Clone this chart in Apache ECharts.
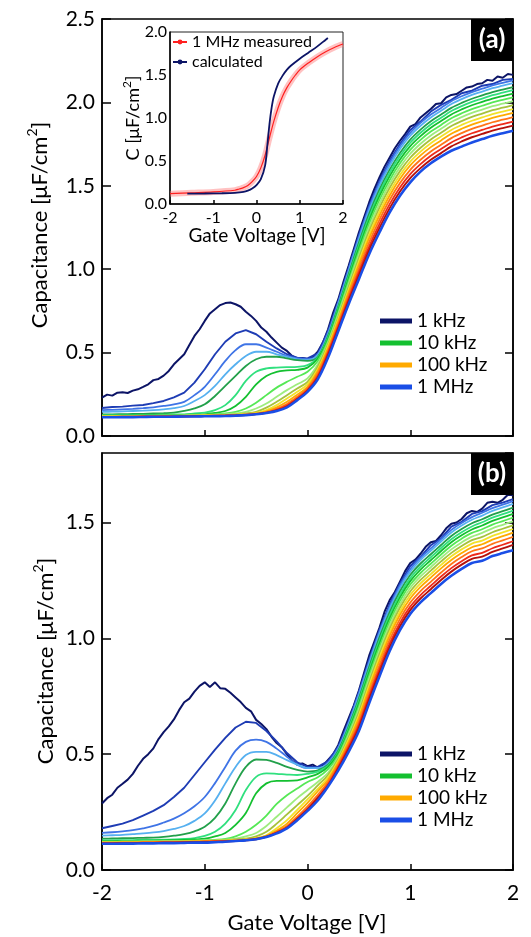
<!DOCTYPE html>
<html><head><meta charset="utf-8">
<script src="https://cdn.jsdelivr.net/npm/echarts@6/dist/echarts.min.js"></script>
<style>html,body{margin:0;padding:0;background:#fff}#c{width:531px;height:937px}</style>
</head><body><div id="c"></div>
<script>
// Gate voltage grid [V]
const volts = [-2,-1.9,-1.8,-1.7,-1.6,-1.5,-1.4,-1.3,-1.2,-1.1,-1,-0.9,-0.8,-0.7,-0.6,-0.5,-0.4,-0.3,-0.2,-0.1,0,0.1,0.2,0.3,0.4,0.5,0.6,0.7,0.8,0.9,1,1.1,1.2,1.3,1.4,1.5,1.6,1.7,1.8,1.9,2];

// Panel (a) capacitance [uF/cm2], from 1 kHz (c1) to 1 MHz (c16)
const aC1 = [0.23,0.248,0.262,0.272,0.294,0.342,0.362,0.44,0.49,0.61,0.69,0.77,0.797,0.79,0.74,0.69,0.62,0.56,0.51,0.465,0.462, 0.505,0.64, 0.82,1.02,1.22,1.40,1.55,1.67,1.77,1.85,1.91,1.96,2.00,2.04,2.07,2.095,2.115,2.135,2.15,2.165];
const aC2 = [0.168,0.174,0.176,0.182,0.186,0.197,0.21,0.232,0.26,0.32,0.40,0.49,0.565,0.615,0.635,0.61,0.565,0.525,0.49,0.47,0.465, 0.495,0.63, 0.809,1.006,1.203,1.381,1.53,1.65,1.75,1.835,1.885,1.945,1.985,2.015,2.055,2.07,2.10,2.11,2.135,2.14];
const aC3 = [0.155,0.157,0.16,0.163,0.167,0.172,0.18,0.19,0.205,0.245,0.295,0.37,0.45,0.515,0.55,0.55,0.53,0.505,0.48,0.465,0.46, 0.49,0.62, 0.801,0.997,1.192,1.369,1.517,1.637,1.737,1.817,1.877,1.927,1.967,2.007,2.037,2.062,2.082,2.102,2.117,2.132];
const aC4 = [0.145,0.146,0.148,0.15,0.152,0.155,0.16,0.167,0.18,0.21,0.245,0.30,0.37,0.43,0.48,0.505,0.505,0.49,0.475,0.46,0.455, 0.485,0.61, 0.791,0.985,1.178,1.353,1.50,1.62,1.72,1.80,1.86,1.91,1.95,1.99,2.02,2.045,2.065,2.085,2.10,2.115];
const aC5 = [0.13,0.13,0.131,0.132,0.133,0.135,0.137,0.14,0.15,0.165,0.19,0.24,0.30,0.36,0.42,0.46,0.475,0.475,0.465,0.455,0.45, 0.475,0.60, 0.778,0.969,1.158,1.332,1.477,1.597,1.697,1.777,1.837,1.887,1.927,1.967,1.997,2.022,2.042,2.062,2.077,2.092];
const aC6 = [0.125,0.125,0.126,0.126,0.127,0.127,0.128,0.129,0.13,0.135,0.14,0.155,0.185,0.245,0.33,0.385,0.405,0.41,0.413,0.415,0.425, 0.47,0.59, 0.767,0.956,1.142,1.313,1.458,1.578,1.678,1.758,1.818,1.868,1.908,1.948,1.978,2.003,2.023,2.043,2.058,2.073];
const aC7 = [0.122,0.122,0.123,0.123,0.124,0.124,0.125,0.126,0.127,0.128,0.13,0.138,0.15,0.18,0.235,0.31,0.36,0.385,0.393,0.397,0.41, 0.465,0.58, 0.755,0.942,1.125,1.295,1.438,1.558,1.658,1.738,1.798,1.848,1.888,1.928,1.958,1.983,2.003,2.023,2.038,2.053];
const aC8 = [0.12,0.12,0.121,0.121,0.122,0.122,0.123,0.123,0.124,0.125,0.126,0.13,0.135,0.145,0.165,0.20,0.245,0.29,0.325,0.355,0.385, 0.45,0.57, 0.742,0.926,1.105,1.273,1.415,1.535,1.635,1.715,1.775,1.825,1.865,1.905,1.935,1.96,1.98,2.00,2.015,2.03];
const aC9 = [0.119,0.119,0.12,0.12,0.121,0.121,0.122,0.122,0.123,0.124,0.125,0.127,0.13,0.135,0.145,0.165,0.195,0.235,0.275,0.31,0.345, 0.43,0.56, 0.729,0.91,1.086,1.251,1.392,1.512,1.612,1.692,1.752,1.802,1.842,1.882,1.912,1.937,1.957,1.977,1.992,2.007];
const aC10 = [0.118,0.118,0.119,0.119,0.12,0.12,0.121,0.121,0.122,0.123,0.124,0.125,0.127,0.13,0.135,0.145,0.17,0.205,0.245,0.285,0.325, 0.415,0.55, 0.715,0.893,1.066,1.229,1.368,1.488,1.588,1.668,1.728,1.778,1.818,1.858,1.888,1.913,1.933,1.953,1.968,1.983];
const aC11 = [0.117,0.117,0.118,0.118,0.119,0.119,0.12,0.12,0.121,0.122,0.123,0.124,0.125,0.128,0.132,0.138,0.155,0.185,0.225,0.265,0.31, 0.40,0.54, 0.702,0.877,1.046,1.208,1.345,1.465,1.565,1.645,1.705,1.755,1.795,1.835,1.865,1.89,1.91,1.93,1.945,1.96];
const aC12 = [0.116,0.116,0.117,0.117,0.118,0.118,0.119,0.119,0.12,0.121,0.122,0.123,0.124,0.126,0.13,0.135,0.148,0.172,0.205,0.248,0.295, 0.39,0.525, 0.689,0.861,1.027,1.186,1.322,1.442,1.542,1.622,1.682,1.732,1.772,1.812,1.842,1.867,1.887,1.907,1.922,1.937];
const aC13 = [0.115,0.115,0.116,0.116,0.117,0.117,0.118,0.118,0.119,0.12,0.121,0.122,0.123,0.125,0.128,0.133,0.143,0.163,0.192,0.235,0.285, 0.375,0.51, 0.674,0.843,1.004,1.161,1.296,1.416,1.516,1.596,1.656,1.706,1.746,1.786,1.816,1.841,1.861,1.881,1.896,1.911];
const aC14 = [0.114,0.114,0.115,0.115,0.116,0.116,0.117,0.117,0.118,0.119,0.12,0.121,0.122,0.124,0.127,0.132,0.14,0.157,0.183,0.225,0.277, 0.36,0.50, 0.658,0.824,0.982,1.136,1.27,1.39,1.49,1.57,1.63,1.68,1.72,1.76,1.79,1.815,1.835,1.855,1.87,1.885];
const aC15 = [0.113,0.113,0.114,0.114,0.115,0.115,0.116,0.116,0.117,0.118,0.119,0.12,0.121,0.123,0.126,0.131,0.139,0.153,0.177,0.22,0.27, 0.35,0.485, 0.645,0.808,0.962,1.115,1.246,1.366,1.466,1.546,1.606,1.656,1.696,1.736,1.766,1.791,1.811,1.831,1.846,1.861];
const aC16 = [0.112,0.112,0.113,0.113,0.114,0.115,0.115,0.116,0.117,0.117,0.118,0.119,0.12,0.122,0.125,0.13,0.138,0.15,0.172,0.215,0.265, 0.34,0.47, 0.63,0.79,0.94,1.09,1.22,1.34,1.44,1.52,1.585,1.635,1.675,1.71,1.735,1.76,1.78,1.80,1.815,1.83];

// Panel (a) 1 kHz curve sampled more finely to show its noise
const voltsFine = [-2,-1.95,-1.9,-1.85,-1.8,-1.75,-1.7,-1.65,-1.6,-1.55,-1.5,-1.45,-1.4,-1.35,-1.3,-1.25,-1.2,-1.15,-1.1,-1.05,-1,-0.95,-0.9,-0.85,-0.8,-0.75,-0.7,-0.65,-0.6,-0.55,-0.5,-0.45,-0.4,-0.35,-0.3,-0.25,-0.2,-0.15,-0.1,-0.05,0,0.05,0.1,0.15,0.2,0.25,0.3,0.35,0.4,0.45,0.5,0.55,0.6,0.65,0.7,0.75,0.8,0.85,0.9,0.95,1,1.05,1.1,1.15,1.2,1.25,1.3,1.35,1.4,1.45,1.5,1.55,1.6,1.65,1.7,1.75,1.8,1.85,1.9,1.95,2];
const aC1fine = [0.23,0.248,0.242,0.26,0.262,0.258,0.272,0.28,0.294,0.31,0.335,0.342,0.362,0.39,0.43,0.46,0.49,0.545,0.6,0.64,0.69,0.735,0.76,0.785,0.797,0.8,0.79,0.775,0.745,0.72,0.69,0.65,0.625,0.59,0.56,0.53,0.51,0.48,0.462,0.468,0.46,0.472,0.505,0.56,0.64,0.74,0.82,0.925,1.02,1.12,1.22,1.31,1.40,1.48,1.55,1.615,1.67,1.725,1.77,1.81,1.855,1.87,1.91,1.935,1.96,1.99,1.995,2.03,2.045,2.05,2.07,2.09,2.095,2.11,2.115,2.135,2.13,2.155,2.148,2.17,2.165];
const bC1fine = [0.287,0.31,0.325,0.355,0.372,0.39,0.415,0.45,0.48,0.5,0.525,0.565,0.595,0.62,0.65,0.69,0.724,0.74,0.77,0.795,0.81,0.79,0.81,0.785,0.782,0.765,0.745,0.725,0.70,0.685,0.648,0.63,0.608,0.575,0.548,0.53,0.50,0.472,0.455,0.46,0.448,0.455,0.442,0.45,0.475,0.5,0.54,0.6,0.655,0.71,0.775,0.85,0.925,0.985,1.045,1.115,1.165,1.2,1.245,1.29,1.325,1.34,1.365,1.395,1.415,1.42,1.445,1.475,1.495,1.5,1.515,1.54,1.55,1.545,1.56,1.585,1.59,1.585,1.598,1.62,1.618];

// Panel (b)
const bC2 = [0.18,0.19,0.20,0.215,0.235,0.255,0.28,0.315,0.355,0.41,0.465,0.52,0.57,0.615,0.64,0.635,0.60,0.555,0.505,0.465,0.445, 0.445,0.47, 0.533,0.642,0.769,0.908,1.037,1.147,1.237,1.312,1.352,1.402,1.432,1.482,1.503,1.537,1.549,1.575,1.586,1.601];
const bC3 = [0.16,0.163,0.167,0.172,0.18,0.19,0.205,0.222,0.245,0.275,0.315,0.375,0.445,0.515,0.553,0.563,0.553,0.524,0.489,0.455,0.44, 0.44,0.465, 0.529,0.636,0.762,0.90,1.028,1.138,1.228,1.298,1.348,1.388,1.428,1.468,1.498,1.523,1.542,1.562,1.577,1.592];
const bC4 = [0.148,0.15,0.152,0.155,0.158,0.162,0.168,0.177,0.19,0.212,0.244,0.30,0.374,0.445,0.496,0.51,0.51,0.496,0.474,0.455,0.44, 0.44,0.46, 0.523,0.629,0.753,0.89,1.018,1.128,1.218,1.288,1.338,1.378,1.418,1.457,1.487,1.512,1.53,1.55,1.565,1.58];
const bC5 = [0.135,0.136,0.137,0.138,0.139,0.14,0.143,0.148,0.155,0.167,0.187,0.225,0.287,0.374,0.445,0.477,0.475,0.462,0.445,0.432,0.425, 0.43,0.455, 0.516,0.619,0.74,0.876,1.003,1.113,1.203,1.273,1.323,1.363,1.403,1.442,1.472,1.497,1.514,1.534,1.549,1.564];
const bC6 = [0.128,0.128,0.129,0.129,0.13,0.13,0.131,0.132,0.134,0.138,0.147,0.165,0.20,0.259,0.345,0.402,0.417,0.415,0.412,0.41,0.415, 0.425,0.45, 0.509,0.611,0.73,0.864,0.99,1.10,1.19,1.26,1.31,1.35,1.39,1.428,1.458,1.483,1.501,1.521,1.536,1.551];
const bC7 = [0.125,0.125,0.126,0.126,0.127,0.127,0.128,0.129,0.13,0.132,0.135,0.145,0.16,0.195,0.246,0.331,0.374,0.385,0.385,0.387,0.40, 0.415,0.445, 0.503,0.602,0.719,0.852,0.977,1.087,1.177,1.247,1.297,1.337,1.377,1.415,1.445,1.47,1.487,1.507,1.522,1.537];
const bC8 = [0.122,0.122,0.123,0.123,0.124,0.124,0.125,0.125,0.126,0.127,0.128,0.13,0.134,0.145,0.165,0.195,0.235,0.285,0.323,0.352,0.38, 0.40,0.435, 0.495,0.593,0.706,0.838,0.962,1.072,1.162,1.232,1.282,1.322,1.362,1.40,1.43,1.455,1.471,1.491,1.506,1.521];
const bC9 = [0.121,0.121,0.122,0.122,0.123,0.123,0.124,0.124,0.125,0.126,0.127,0.128,0.131,0.135,0.145,0.16,0.19,0.23,0.27,0.31,0.345, 0.38,0.42, 0.487,0.583,0.694,0.824,0.947,1.057,1.147,1.217,1.267,1.307,1.347,1.384,1.414,1.439,1.455,1.475,1.49,1.505];
const bC10 = [0.12,0.12,0.121,0.121,0.122,0.122,0.123,0.123,0.124,0.125,0.126,0.127,0.129,0.132,0.135,0.145,0.165,0.20,0.24,0.28,0.32, 0.365,0.41, 0.479,0.573,0.681,0.81,0.932,1.042,1.132,1.202,1.252,1.292,1.332,1.369,1.399,1.424,1.438,1.458,1.473,1.488];
const bC11 = [0.119,0.119,0.12,0.12,0.121,0.121,0.122,0.122,0.123,0.124,0.125,0.126,0.127,0.129,0.132,0.138,0.15,0.18,0.215,0.26,0.305, 0.35,0.40, 0.472,0.563,0.668,0.796,0.917,1.027,1.117,1.187,1.237,1.277,1.317,1.354,1.384,1.409,1.422,1.442,1.457,1.472];
const bC12 = [0.118,0.118,0.119,0.119,0.12,0.12,0.121,0.121,0.122,0.123,0.124,0.125,0.126,0.128,0.131,0.136,0.147,0.17,0.20,0.245,0.29, 0.34,0.39, 0.464,0.553,0.656,0.782,0.902,1.012,1.102,1.172,1.222,1.262,1.302,1.338,1.368,1.393,1.406,1.426,1.441,1.456];
const bC13 = [0.117,0.117,0.118,0.118,0.119,0.119,0.12,0.12,0.121,0.122,0.123,0.124,0.125,0.127,0.13,0.135,0.145,0.165,0.19,0.23,0.275, 0.325,0.38, 0.455,0.542,0.641,0.766,0.884,0.994,1.084,1.154,1.204,1.244,1.284,1.321,1.351,1.376,1.388,1.408,1.423,1.438];
const bC14 = [0.116,0.116,0.117,0.117,0.118,0.118,0.119,0.119,0.12,0.121,0.122,0.123,0.124,0.126,0.129,0.134,0.144,0.162,0.185,0.223,0.265, 0.315,0.37, 0.446,0.531,0.627,0.75,0.867,0.977,1.067,1.137,1.187,1.227,1.267,1.303,1.333,1.358,1.369,1.389,1.404,1.419];
const bC15 = [0.115,0.115,0.116,0.116,0.117,0.117,0.118,0.118,0.119,0.12,0.121,0.122,0.123,0.125,0.128,0.133,0.143,0.16,0.182,0.22,0.26, 0.31,0.365, 0.439,0.521,0.614,0.736,0.852,0.962,1.052,1.122,1.172,1.212,1.252,1.288,1.318,1.343,1.353,1.373,1.388,1.403];
const bC16 = [0.113,0.113,0.114,0.114,0.115,0.115,0.116,0.116,0.117,0.118,0.118,0.12,0.122,0.125,0.128,0.133,0.142,0.158,0.18,0.215,0.255, 0.30,0.36, 0.43,0.51,0.60,0.72,0.835,0.945,1.035,1.105,1.155,1.195,1.235,1.27,1.30,1.325,1.335,1.355,1.368,1.38];

// Inset
const insetMeasV = [-2,-1.5,-1,-0.5,-0.4,-0.3,-0.2,-0.1,0,0.1,0.2,0.3,0.4,0.5,0.6,0.7,0.8,0.9,1.0,1.2,1.4,1.6,1.8,2.0];
const insetMeasC = [0.12,0.13,0.14,0.16,0.175,0.19,0.215,0.26,0.32,0.42,0.57,0.77,0.96,1.12,1.25,1.35,1.43,1.50,1.56,1.64,1.71,1.77,1.82,1.86];
const insetCalcV = [-1.6,-1.2,-0.8,-0.5,-0.3,-0.2,-0.1,0,0.1,0.2,0.25,0.3,0.35,0.4,0.5,0.6,0.7,0.8,1.0,1.2,1.4,1.6,1.65];
const insetCalcC = [0.12,0.122,0.125,0.13,0.14,0.155,0.18,0.22,0.29,0.45,0.68,0.93,1.12,1.25,1.40,1.49,1.56,1.61,1.69,1.76,1.83,1.91,1.93];

const curveNames = ['1 kHz','a2','a3','a4','a5','a6','10 kHz','a8','a9','a10','a11','100 kHz','a13','a14','a15','1 MHz'];
const legendNames = ['1 kHz','10 kHz','100 kHz','1 MHz'];
const insetNames = ['1 MHz measured','calculated'];
const xTicks = [-2,-1,0,1,2];

const curveColors = ['#0c1466','#1e3cb4','#3f74e6','#56b0f0','#22a04a','#30e07e','#14c030','#55e855','#9eec7e','#a6c23c','#f2e22a','#ffaa00','#ff7418','#ee2a1a','#b4100c','#1a4ee6'];
const curveWidths = [2,1.9,1.8,1.8,1.8,1.8,1.8,1.8,1.8,1.8,1.8,1.8,1.8,1.8,1.9,2.6];

const panelA = [aC1fine,aC2,aC3,aC4,aC5,aC6,aC7,aC8,aC9,aC10,aC11,aC12,aC13,aC14,aC15,aC16];
const panelB = [bC1fine,bC2,bC3,bC4,bC5,bC6,bC7,bC8,bC9,bC10,bC11,bC12,bC13,bC14,bC15,bC16];

const FONT = 'Lato, "Noto Sans", sans-serif';
const chart = echarts.init(document.getElementById('c'), null, {renderer:'canvas'});

function curve(arr, k, xi, yi) {
  const xs = k === 0 ? voltsFine : volts;
  return {
    type:'line', name: curveNames[k], xAxisIndex: xi, yAxisIndex: yi,
    data: xs.map((v,i)=>[v, arr[i]]),
    symbol:'none', showSymbol:false, smooth: k < 2 ? false : 0.35,
    lineStyle:{color: curveColors[k], width: curveWidths[k]},
    itemStyle:{color: curveColors[k]}, silent:true, animation:false
  };
}
const series = [];
panelA.forEach((a,k)=>series.push(curve(a,k,0,0)));
panelB.forEach((a,k)=>series.push(curve(a,k,1,2)));
series.push({type:'line', name:'halo', xAxisIndex:2, yAxisIndex:4, data: insetMeasV.map((v,i)=>[v, insetMeasC[i]]),
  symbol:'none', smooth:0.3, lineStyle:{color:'rgba(255,120,120,0.45)', width:6}, silent:true});
series.push({type:'line', name:insetNames[0], xAxisIndex:2, yAxisIndex:4, data: insetMeasV.map((v,i)=>[v, insetMeasC[i]]),
  symbol:'circle', symbolSize:5, showSymbol:false, smooth:0.3, lineStyle:{color:'#ff2020', width:1.2}, itemStyle:{color:'#ff2020'}, silent:true});
series.push({type:'line', name:insetNames[1], xAxisIndex:2, yAxisIndex:4, data: insetCalcV.map((v,i)=>[v, insetCalcC[i]]),
  symbol:'none', smooth:0.3, lineStyle:{color:'#0c1466', width:1.8}, itemStyle:{color:'#0c1466'}, silent:true});

function xAx(gi, showLab, fs, margin, tickLen) {
  return {gridIndex:gi, type:'value', min:-2, max:2, interval:1,
    axisLine:{show:true, onZero:false, lineStyle:{color:'#000', width:1.5}}, splitLine:{show:false},
    axisTick:{show:true, inside:true, length:tickLen, lineStyle:{color:'#000', width:1.5}},
    axisLabel:{show:showLab, fontSize:fs, margin:margin, color:'#000', fontFamily:FONT,
      formatter: v => xTicks.includes(v) ? String(v) : ''}};
}
function yAx(gi, max, pos, showLab, fs, margin, tickLen, tickShow) {
  return {gridIndex:gi, type:'value', min:0, max:max, interval:0.5, position:pos,
    axisLine:{show:true, onZero:false, lineStyle:{color:'#000', width:1.5}}, splitLine:{show:false},
    axisTick:{show:tickShow, inside:true, length:tickLen, lineStyle:{color:'#000', width:1.5}},
    axisLabel:{show:showLab, fontSize:fs, margin:margin, color:'#000', fontFamily:FONT, showMaxLabel: max % 0.5 === 0,
      formatter: v => v.toFixed(1)}};
}

const option = {
  animation:false,
  backgroundColor:'#fff',
  textStyle:{fontFamily:FONT},
  grid:[
    {left:102, top:19, width:411, height:417, show:true, borderColor:'#000', borderWidth:1.5, backgroundColor:'transparent'},
    {left:102, top:453, width:411, height:417, show:true, borderColor:'#000', borderWidth:1.5, backgroundColor:'transparent'},
    {left:170, top:32, width:173, height:172, show:true, borderColor:'#222', borderWidth:1, backgroundColor:'#fff'}
  ],
  xAxis:[ xAx(0,false,21,13,6), xAx(1,true,21,13,6), xAx(2,true,16,6,4) ],
  yAxis:[
    yAx(0,2.5,'left',true,21,7,9,true),
    yAx(0,2.5,'right',false,21,7,8,true),
    yAx(1,1.8,'left',true,21,7,9,true),
    yAx(1,1.8,'right',false,21,7,8,true),
    yAx(2,2,'left',true,16,3,4,false)
  ],
  legend:[
    {data:legendNames, orient:'vertical', left:380, top:310, padding:0, itemGap:0, itemWidth:32, itemHeight:5, icon:'rect',
     textStyle:{fontSize:19, lineHeight:22, color:'#000', fontFamily:FONT}, selectedMode:false},
    {data:legendNames, orient:'vertical', left:380, top:743, padding:0, itemGap:0, itemWidth:32, itemHeight:5, icon:'rect',
     textStyle:{fontSize:19, lineHeight:22, color:'#000', fontFamily:FONT}, selectedMode:false},
    {data:insetNames, orient:'vertical', left:172, top:32, padding:0, itemGap:0, itemWidth:14, itemHeight:6,
     textStyle:{fontSize:16, lineHeight:20, color:'#000', fontFamily:FONT}, selectedMode:false}
  ],
  graphic:[
    {type:'text', x:40, y:225, rotation:Math.PI/2, z:100,
     style:{text:'{m|Capacitance [μF/cm}{s|2}{m|]}', align:'center', verticalAlign:'middle', fill:'#000',
       rich:{m:{fontSize:22, lineHeight:30, fontFamily:FONT, verticalAlign:'middle'}, s:{fontSize:14, lineHeight:14, fontFamily:FONT, verticalAlign:'top'}}}},
    {type:'text', x:46, y:661, rotation:Math.PI/2, z:100,
     style:{text:'{m|Capacitance [μF/cm}{s|2}{m|]}', align:'center', verticalAlign:'middle', fill:'#000',
       rich:{m:{fontSize:22, lineHeight:30, fontFamily:FONT, verticalAlign:'middle'}, s:{fontSize:14, lineHeight:14, fontFamily:FONT, verticalAlign:'top'}}}},
    {type:'text', x:133, y:118, rotation:Math.PI/2, z:100,
     style:{text:'{m|C [μF/cm}{s|2}{m|]}', align:'center', verticalAlign:'middle', fill:'#000',
       rich:{m:{fontSize:18, lineHeight:24, fontFamily:FONT, verticalAlign:'middle'}, s:{fontSize:12, lineHeight:12, fontFamily:FONT, verticalAlign:'top'}}}},
    {type:'text', x:257, y:236, z:100,
     style:{text:'Gate Voltage [V]', font:'19px '+FONT, align:'center', verticalAlign:'middle', fill:'#000'}},
    {type:'text', x:307, y:923, z:100,
     style:{text:'Gate Voltage [V]', font:'22px '+FONT, align:'center', verticalAlign:'middle', fill:'#000'}},
    {type:'rect', shape:{x:471, y:19, width:42, height:42}, style:{fill:'#000'}, z:100},
    {type:'text', x:492, y:40, z:101, style:{text:'(a)', font:'bold 26px '+FONT, align:'center', verticalAlign:'middle', fill:'#fff'}},
    {type:'rect', shape:{x:471, y:453, width:42, height:42}, style:{fill:'#000'}, z:100},
    {type:'text', x:492, y:474, z:101, style:{text:'(b)', font:'bold 26px '+FONT, align:'center', verticalAlign:'middle', fill:'#fff'}}
  ],
  series: series
};
chart.setOption(option);
</script>
</body></html>
